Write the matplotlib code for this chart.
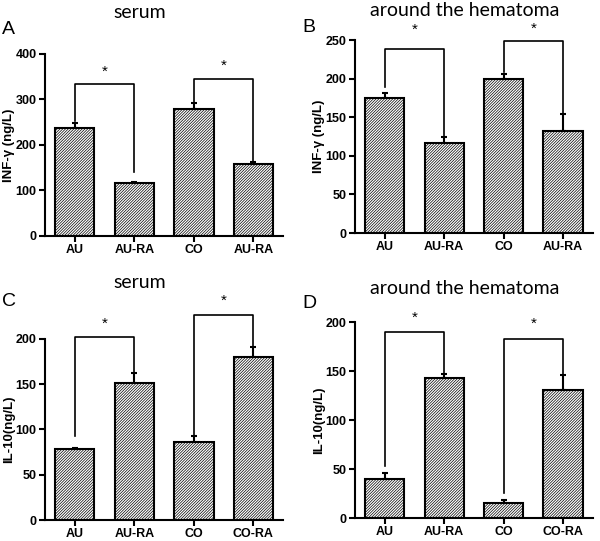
import numpy as np
import matplotlib.pyplot as plt

plt.rcParams['hatch.linewidth'] = 0.5
plt.rcParams['hatch.color'] = '#333333'
plt.rcParams['font.family'] = ['Liberation Sans', 'DejaVu Sans']

# values
labels_top = ["AU", "AU-RA", "CO", "AU-RA"]
labels_bot = ["AU", "AU-RA", "CO", "CO-RA"]

ifn_serum = [238, 116.5, 279, 159]
ifn_serum_err = [11, 2.5, 13, 3]
ifn_hema = [175, 117, 200, 132]
ifn_hema_err = [7, 7.5, 6, 22]
il10_serum = [78.5, 151.8, 86, 180.5]
il10_serum_err = [1, 11, 7, 10.5]
il10_hema = [40, 143, 15.3, 131]
il10_hema_err = [6, 3.5, 3.4, 15]

# brackets: (left bar, right bar, top y, left foot y, right foot y, star y)
br_A = [(0, 1, 333, 252, 141, 361), (2, 3, 345, 295, 161, 373)]
br_B = [(0, 1, 239, 189, 124, 263), (2, 3, 249, 209, 155, 265)]
br_C = [(0, 1, 202.6, 93, 162, 217), (2, 3, 227, 94, 191, 242)]
br_D = [(0, 1, 190, 52.7, 145, 204), (2, 3, 183, 25.5, 145, 198)]

panels = [
    ([0.075, 0.5638, 0.397, 0.3364], ifn_serum, ifn_serum_err, labels_top, 400, 100,
     "INF-γ (ng/L)", br_A),
    ([0.5917, 0.5693, 0.3963, 0.3567], ifn_hema, ifn_hema_err, labels_top, 250, 50,
     "INF-γ (ng/L)", br_B),
    ([0.075, 0.0388, 0.397, 0.3346], il10_serum, il10_serum_err, labels_bot, 200, 50,
     "IL-10(ng/L)", br_C),
    ([0.5917, 0.0425, 0.3963, 0.3623], il10_hema, il10_hema_err, labels_bot, 200, 50,
     "IL-10(ng/L)", br_D),
]

fig = plt.figure(figsize=(6, 5.41), dpi=100)

for rect, vals, errs, labs, ymax, step, ylab, brs in panels:
    ax = fig.add_axes(rect)
    x = np.arange(len(vals))
    ax.bar(x, vals, width=0.66, color='white', edgecolor='black', linewidth=1.5,
           hatch='/' * 12, zorder=2)
    ax.errorbar(x, vals, yerr=[np.zeros(len(errs)), errs], fmt='none', ecolor='black',
                elinewidth=1.5, capsize=2.5, capthick=1.5, zorder=3)
    for a, b, ytop, yl, yr, ys in brs:
        ax.plot([a, a, b, b], [yl, ytop, ytop, yr], color='black', lw=1.2, zorder=4,
                clip_on=False)
        ax.text((a + b) / 2, ys, "*", ha='center', va='center', fontsize=11,
                clip_on=False)
    ax.set_xlim(-0.5, 3.5)
    ax.set_ylim(0, ymax)
    ax.set_yticks(np.arange(0, ymax + 1, step))
    ax.set_xticks(x)
    ax.set_xticklabels(labs)
    ax.set_ylabel(ylab, fontsize=9.5, fontweight='bold', va='center')
    ax.yaxis.set_label_coords(-0.15, 0.5)
    for s in ['top', 'right']:
        ax.spines[s].set_visible(False)
    for s in ['left', 'bottom']:
        ax.spines[s].set_linewidth(1.5)
    ax.tick_params(width=1.5, length=4, labelsize=9, pad=2)
    for t in ax.get_xticklabels() + ax.get_yticklabels():
        t.set_fontweight('bold')

title_font = ['Lato', 'DejaVu Sans']
fig.text(140 / 600, 1 - 12 / 541, "serum", ha='center', va='center', fontsize=14,
         family=title_font)
fig.text(465 / 600, 1 - 11 / 541, "around the hematoma", ha='center', va='center',
         fontsize=14, family=title_font)
fig.text(140 / 600, 1 - 283 / 541, "serum", ha='center', va='center', fontsize=14,
         family=title_font)
fig.text(465 / 600, 1 - 288 / 541, "around the hematoma", ha='center', va='center',
         fontsize=14, family=title_font)

for lx, ly, letter in [(2, 30, "A"), (302, 27, "B"), (2, 302, "C"), (302, 303, "D")]:
    fig.text(lx / 600, 1 - ly / 541, letter, ha='left', va='center', fontsize=14)

fig.savefig("out.png", dpi=100)
